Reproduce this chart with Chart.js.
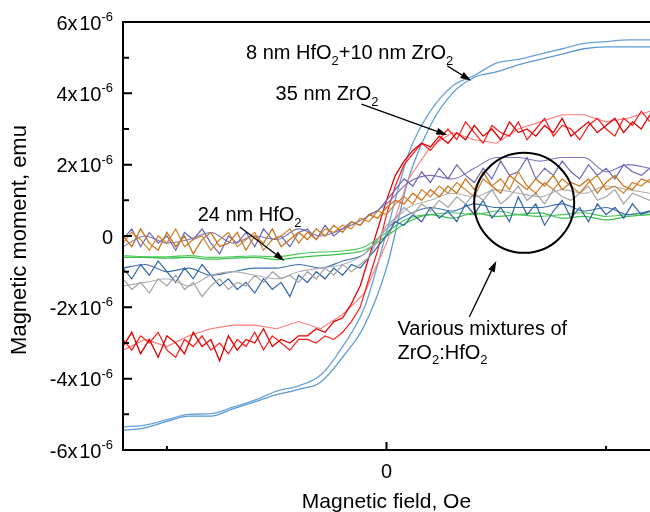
<!DOCTYPE html>
<html>
<head>
<meta charset="utf-8">
<script src="https://cdn.jsdelivr.net/npm/chart.js"></script>
<style>
  html, body { margin: 0; padding: 0; background: #fff; }
  canvas { display: block; }
</style>
</head>
<body>
<canvas id="momentChart" width="650" height="512"></canvas>
<script>
const FONT = '"Liberation Sans", Arial, sans-serif'

// field values (one x tick step = 1 unit, 0 in the middle)
const fieldFine = [-1.2, -1.16, -1.12, -1.08, -1.04, -1, -0.96, -0.92, -0.88, -0.84,
  -0.8, -0.76, -0.72, -0.68, -0.64, -0.6, -0.56, -0.52, -0.48, -0.44,
  -0.4, -0.36, -0.32, -0.28, -0.24, -0.2, -0.16, -0.12, -0.08, -0.04,
  0, 0.04, 0.08, 0.12, 0.16, 0.2, 0.24, 0.28, 0.32, 0.36,
  0.4, 0.44, 0.48, 0.52, 0.56, 0.6, 0.64, 0.68, 0.72, 0.76,
  0.8, 0.84, 0.88, 0.92, 0.96, 1, 1.04, 1.08, 1.12, 1.16, 1.2]
const fieldCoarse = [-1.2, -1.1, -1, -0.9, -0.8, -0.7, -0.6, -0.5, -0.4, -0.3, -0.2, -0.1,
  0, 0.1, 0.2, 0.3, 0.4, 0.5, 0.6, 0.7, 0.8, 0.9, 1, 1.1, 1.2]

// magnetic moment, in units of 1e-6 emu
// 8 nm HfO2 + 10 nm ZrO2 (two branches, coarse grid)
const bilayerUp = [-5.45, -5.38, -5.2, -5.05, -5.05, -4.85, -4.65, -4.45, -4.3, -4.1, -3.4, -2.5,
  -0.9, 1.6, 3.1, 4.0, 4.45, 4.6, 4.8, 4.95, 5.1, 5.25, 5.3, 5.3, 5.3]
const bilayerDown = [-5.35, -5.3, -5.15, -5.0, -4.98, -4.8, -4.6, -4.35, -4.2, -3.9, -3.1, -2.0,
  0.1, 2.3, 3.5, 4.2, 4.5, 4.85, 4.95, 5.1, 5.25, 5.4, 5.45, 5.5, 5.5]

// 35 nm ZrO2 (fine grid, plus one lighter coarse trace)
const zrA = [-3.1, -2.7, -3.3, -2.9, -3.4, -2.8, -3.0, -3.3, -2.7, -3.1, -2.9, -3.5, -2.8, -3.2, -2.9, -3.0, -2.6, -3.1, -2.9, -3.0, -2.8,
  -2.8, -2.6, -2.7, -2.4, -2.3, -1.9, -1.4, -0.6, 0.2, 1.0, 1.7, 2.1, 2.4, 2.6, 2.5, 2.8,
  2.6, 2.9, 2.7, 3.1, 2.8, 3.0, 2.7, 3.2, 2.9, 3.0, 2.8, 3.1, 2.9, 3.3, 2.8, 3.0, 3.2, 2.9, 3.1, 3.3, 2.9, 3.2, 3.0, 3.4]
const zrB = [-2.9, -3.2, -2.8, -3.0, -2.7, -3.2, -3.4, -2.9, -3.1, -2.8, -3.2, -3.0, -3.3, -2.9, -3.1, -2.7, -3.2, -2.8, -3.0, -3.2, -2.9,
  -2.9, -3.0, -2.8, -2.9, -2.7, -2.4, -2.0, -1.2, -0.4, 0.6, 1.4, 2.0, 2.3, 2.6, 2.4, 2.7,
  3.0, 2.7, 3.2, 2.9, 2.6, 3.1, 2.9, 2.8, 3.2, 2.7, 3.0, 3.3, 2.8, 3.1, 3.0, 2.7, 3.1, 3.3, 3.0, 2.8, 3.3, 3.1, 3.5, 3.2]
const zrLight = [-3.2, -2.9, -3.1, -2.8, -2.6, -2.5, -2.5, -2.6, -2.4, -2.6, -2.2, -1.6,
  -0.2, 1.6, 2.5, 2.9, 2.7, 2.6, 3.0, 3.2, 3.4, 3.4, 3.2, 3.3, 3.5]

// 24 nm HfO2 (smooth, coarse grid)
const hfUp = [-0.6, -0.6, -0.62, -0.6, -0.65, -0.62, -0.6, -0.66, -0.6, -0.55, -0.5, -0.4,
  0.0, 0.4, 0.6, 0.5, 0.65, 0.55, 0.6, 0.65, 0.5, 0.55, 0.45, 0.55, 0.6]
const hfDown = [-0.55, -0.58, -0.58, -0.55, -0.6, -0.58, -0.56, -0.58, -0.5, -0.45, -0.42, -0.3,
  0.1, 0.5, 0.6, 0.65, 0.6, 0.7, 0.6, 0.55, 0.6, 0.65, 0.55, 0.6, 0.65]

// ZrO2:HfO2 mixtures
const mixPurple = [-0.1, 0.2, -0.3, 0.1, -0.2, 0.0, -0.4, 0.1, -0.1, 0.2, -0.2, -0.5, 0.0, -0.2, 0.1, -0.3, 0.2, -0.1, 0.0, -0.3, 0.1,
  0.2, -0.1, 0.3, 0.0, 0.2, 0.4, 0.3, 0.6, 0.7, 1.0, 1.3, 1.6, 1.4, 1.8, 1.5, 1.9,
  1.6, 2.0, 1.7, 1.5, 1.9, 1.6, 2.1, 1.7, 1.8, 2.2, 1.6, 1.9, 1.7, 2.1, 1.8, 1.6, 2.0, 1.7, 1.9, 1.6, 2.0, 1.8, 1.7, 1.9]
const mixPurpleSmooth = [-0.3, 0.0, -0.2, -0.1, 0.1, -0.2, 0.0, -0.1, 0.2, 0.0, 0.2, 0.5,
  0.9, 1.5, 1.7, 1.6, 1.9, 2.2, 2.2, 2.1, 2.2, 2.2, 1.8, 2.0, 1.9]
const mixOrangeA = [0.0, -0.3, 0.2, -0.2, -0.4, 0.1, -0.3, 0.0, -0.5, -0.1, 0.1, -0.3, -0.2, 0.1, -0.4, 0.0, -0.2, 0.2, -0.3, -0.1, 0.1,
  -0.1, 0.2, 0.0, 0.3, 0.1, 0.4, 0.3, 0.6, 0.5, 0.8, 1.0, 0.9, 1.2, 1.0, 1.3, 1.1,
  1.4, 1.2, 1.6, 1.3, 1.8, 1.4, 1.2, 1.7, 1.5, 1.3, 1.6, 1.4, 1.7, 1.3, 1.5, 1.4, 1.6, 1.2, 1.5, 1.7, 1.4, 1.3, 1.6, 1.5]
const mixOrangeB = [-0.2, 0.1, -0.1, -0.4, 0.0, -0.2, 0.2, -0.3, -0.1, 0.0, -0.4, -0.1, 0.1, -0.3, -0.1, 0.1, -0.4, -0.1, 0.0, 0.2, -0.2,
  0.1, -0.1, 0.2, 0.1, 0.3, 0.2, 0.5, 0.4, 0.7, 0.6, 0.9, 1.1, 0.9, 1.3, 1.1, 1.4,
  1.2, 1.5, 1.3, 1.1, 1.6, 1.4, 1.6, 1.3, 1.8, 1.4, 1.2, 1.5, 1.3, 1.6, 1.4, 1.2, 1.5, 1.7, 1.3, 1.4, 1.2, 1.5, 1.4, 1.6]
const mixGray = [-1.2, -1.5, -1.3, -1.6, -1.2, -1.4, -1.1, -1.5, -1.3, -1.7, -1.4, -1.2, -1.5, -1.3, -1.4, -1.1, -1.3, -1.0, -1.2, -1.1, -1.3,
  -1.0, -1.2, -0.9, -1.1, -0.8, -1.0, -0.8, -0.6, -0.1, 0.3, 0.5, 0.8, 0.6, 0.9, 0.7, 1.0,
  0.8, 1.1, 0.9, 1.2, 1.0, 1.3, 0.9, 1.1, 1.4, 1.0, 1.2, 0.9, 1.3, 1.1, 1.0, 1.2, 1.4, 1.0, 1.1, 1.3, 0.9, 1.2, 1.1, 1.0]
const mixGraySmooth = [-1.4, -1.3, -1.2, -1.4, -1.1, -1.0, -1.1, -1.2, -1.0, -0.9, -0.8, -0.5,
  0.2, 0.8, 1.0, 1.2, 1.1, 1.3, 1.2, 1.1, 1.3, 1.2, 1.4, 1.3, 1.2]
const mixBlue = [-0.9, -1.2, -0.8, -1.1, -0.7, -1.0, -1.3, -0.9, -1.2, -0.8, -1.1, -1.4, -1.2, -1.5, -1.3, -1.6, -1.2, -1.5, -1.3, -1.7, -1.1,
  -1.3, -1.0, -1.2, -0.9, -1.1, -0.8, -0.9, -0.6, -0.3, 0.0, 0.4, 0.3, 0.6, 0.4, 0.8, 0.5,
  0.7, 0.4, 0.9, 0.6, 1.0, 0.5, 0.8, 0.4, 1.1, 0.6, 0.9, 0.3, 0.7, 1.0, 0.5, 0.8, 0.4, 0.9, 0.6, 0.8, 0.5, 0.9, 0.6, 0.7]
const mixBlueSmooth = [-0.9, -0.8, -1.0, -0.9, -1.1, -1.0, -0.9, -0.9, -0.8, -0.9, -0.7, -0.5,
  0.2, 0.6, 0.8, 0.7, 0.9, 0.8, 0.8, 0.8, 0.9, 0.7, 0.8, 0.6, 0.7]

// axis ticks
const yMajor = [-6, -4, -2, 0, 2, 4, 6]
const yMinor = [-5, -3, -1, 1, 3, 5]
const xMajor = [0]
const xMinor = [-1, 1]

// annotations (data coordinates)
const labels = [
  {x: -0.64, y: 4.96, parts: [['8 nm HfO', 'n'], ['2', 'sub'], ['+10 nm ZrO', 'n'], ['2', 'sub']]},
  {x: -0.505, y: 3.81, parts: [['35 nm ZrO', 'n'], ['2', 'sub']]},
  {x: -0.86, y: 0.42, parts: [['24 nm HfO', 'n'], ['2', 'sub']]},
  {x: 0.05, y: -2.78, parts: [['Various mixtures of', 'n']]},
  {x: 0.05, y: -3.44, parts: [['ZrO', 'n'], ['2', 'sub'], [':HfO', 'n'], ['2', 'sub']]}
]
const arrows = [
  {from: [0.277, 4.77], to: [0.386, 4.35]},
  {from: [-0.114, 3.7], to: [0.277, 2.83]},
  {from: [-0.668, 0.25], to: [-0.464, -0.7]},
  {from: [0.377, -2.27], to: [0.5, -0.7]}
]
const ring = {x: 0.627, y: 0.93}

const pts = (xs, ys) => ys.map((v, i) => ({x: xs[i], y: v}))

// draw rich text (with sub/superscripts), returns width
function richText(ctx, x, y, parts, size, draw) {
  let cx = x
  parts.forEach(([txt, kind]) => {
    const s = kind == 'n' ? size : Math.round(size * 0.66)
    const dy = kind == 'sub' ? size * 0.28 : kind == 'sup' ? -size * 0.42 : 0
    ctx.font = s + 'px ' + FONT
    if (draw) ctx.fillText(txt, cx, y + dy)
    cx += ctx.measureText(txt).width
  })
  return cx - x
}

function arrow(ctx, x1, y1, x2, y2) {
  const a = Math.atan2(y2 - y1, x2 - x1)
  const L = 11, W = 3.5
  const bx = x2 - L * Math.cos(a), by = y2 - L * Math.sin(a)
  ctx.beginPath()
  ctx.moveTo(x1, y1)
  ctx.lineTo(bx, by)
  ctx.stroke()
  ctx.beginPath()
  ctx.moveTo(x2, y2)
  ctx.lineTo(bx + W * Math.sin(a), by - W * Math.cos(a))
  ctx.lineTo(bx - W * Math.sin(a), by + W * Math.cos(a))
  ctx.closePath()
  ctx.fill()
}

const frame = {
  id: 'frame',
  afterDraw(chart) {
    const {ctx, chartArea: a, scales: {x, y}} = chart
    ctx.save()
    ctx.strokeStyle = '#000'
    ctx.fillStyle = '#000'
    ctx.lineWidth = 2
    ctx.beginPath()
    ctx.moveTo(a.right + 2, a.top)
    ctx.lineTo(a.left, a.top)
    ctx.lineTo(a.left, a.bottom)
    ctx.lineTo(a.right + 2, a.bottom)
    ctx.stroke()

    // inward ticks
    ctx.beginPath()
    yMajor.forEach(v => { const p = y.getPixelForValue(v); ctx.moveTo(a.left, p); ctx.lineTo(a.left + 9, p) })
    yMinor.forEach(v => { const p = y.getPixelForValue(v); ctx.moveTo(a.left, p); ctx.lineTo(a.left + 6, p) })
    xMajor.forEach(v => { const p = x.getPixelForValue(v); ctx.moveTo(p, a.bottom); ctx.lineTo(p, a.bottom - 8) })
    xMinor.forEach(v => { const p = x.getPixelForValue(v); ctx.moveTo(p, a.bottom); ctx.lineTo(p, a.bottom - 4) })
    ctx.stroke()

    // y tick labels
    ctx.textAlign = 'left'
    ctx.textBaseline = 'alphabetic'
    yMajor.forEach(v => {
      const p = y.getPixelForValue(v)
      const parts = v == 0 ? [['0', 'n']] : [[v + 'x', 'n'], ['\u200a10', 'n'], ['-6', 'sup']]
      const w = richText(ctx, 0, 0, parts, 20, false)
      richText(ctx, a.left - 10 - w, p + 7.5, parts, 20, true)
    })
    // x tick label
    ctx.font = '20px ' + FONT
    ctx.textAlign = 'center'
    ctx.fillText('0', x.getPixelForValue(0), a.bottom + 28)

    // axis titles
    ctx.font = '21px ' + FONT
    ctx.fillText('Magnetic field, Oe', x.getPixelForValue(0), a.bottom + 58)
    ctx.save()
    ctx.translate(26, (a.top + a.bottom) / 2 + 4)
    ctx.rotate(-Math.PI / 2)
    ctx.font = '22px ' + FONT
    ctx.fillText('Magnetic moment, emu', 0, 0)
    ctx.restore()

    // annotations
    ctx.textAlign = 'left'
    labels.forEach(l => richText(ctx, x.getPixelForValue(l.x), y.getPixelForValue(l.y), l.parts, 20, true))
    ctx.lineWidth = 1.3
    arrows.forEach(r => arrow(ctx, x.getPixelForValue(r.from[0]), y.getPixelForValue(r.from[1]),
      x.getPixelForValue(r.to[0]), y.getPixelForValue(r.to[1])))
    ctx.lineWidth = 2
    ctx.beginPath()
    ctx.arc(x.getPixelForValue(ring.x), y.getPixelForValue(ring.y), 50, 0, Math.PI * 2)
    ctx.stroke()
    ctx.restore()
  }
}

const line = (data, color, width, smooth) => ({
  data: data,
  borderColor: color,
  borderWidth: width,
  pointRadius: 0,
  fill: false,
  tension: smooth ? 0.4 : 0,
  cubicInterpolationMode: smooth ? 'monotone' : 'default'
})

// first dataset is painted on top
const datasets = [
  line(pts(fieldFine, mixOrangeA), '#c8761e', 1.3, false),
  line(pts(fieldFine, mixOrangeB), '#d0812a', 1.2, false),
  line(pts(fieldFine, mixPurple), '#6c66b2', 1.2, false),
  line(pts(fieldCoarse, mixPurpleSmooth), '#7a73bd', 1.1, true),
  line(pts(fieldFine, mixGray), '#a3a3a3', 1.2, false),
  line(pts(fieldCoarse, mixGraySmooth), '#b0b0b0', 1.1, true),
  line(pts(fieldFine, mixBlue), '#2f64a8', 1.2, false),
  line(pts(fieldCoarse, mixBlueSmooth), '#3c70b0', 1.1, true),
  line(pts(fieldCoarse, hfUp), '#3dbf4c', 1.3, true),
  line(pts(fieldCoarse, hfDown), '#48c957', 1.1, true),
  line(pts(fieldFine, zrA), '#e00000', 1.3, false),
  line(pts(fieldFine, zrB), '#ff1a1a', 1.2, false),
  line(pts(fieldCoarse, zrLight), '#ff7a7a', 1.1, false),
  line(pts(fieldCoarse, bilayerUp), '#5b98d4', 1.3, true),
  line(pts(fieldCoarse, bilayerDown), '#6aa3da', 1.3, true)
]

new Chart(document.getElementById('momentChart'), {
  type: 'line',
  data: {datasets: datasets},
  options: {
    responsive: false,
    animation: false,
    events: [],
    layout: {padding: {left: 123, top: 22, right: 0, bottom: 62}},
    plugins: {legend: {display: false}, tooltip: {enabled: false}},
    scales: {
      x: {type: 'linear', min: -1.2, max: 1.2, display: false},
      y: {type: 'linear', min: -6, max: 6, display: false}
    }
  },
  plugins: [frame]
})
</script>
</body>
</html>
